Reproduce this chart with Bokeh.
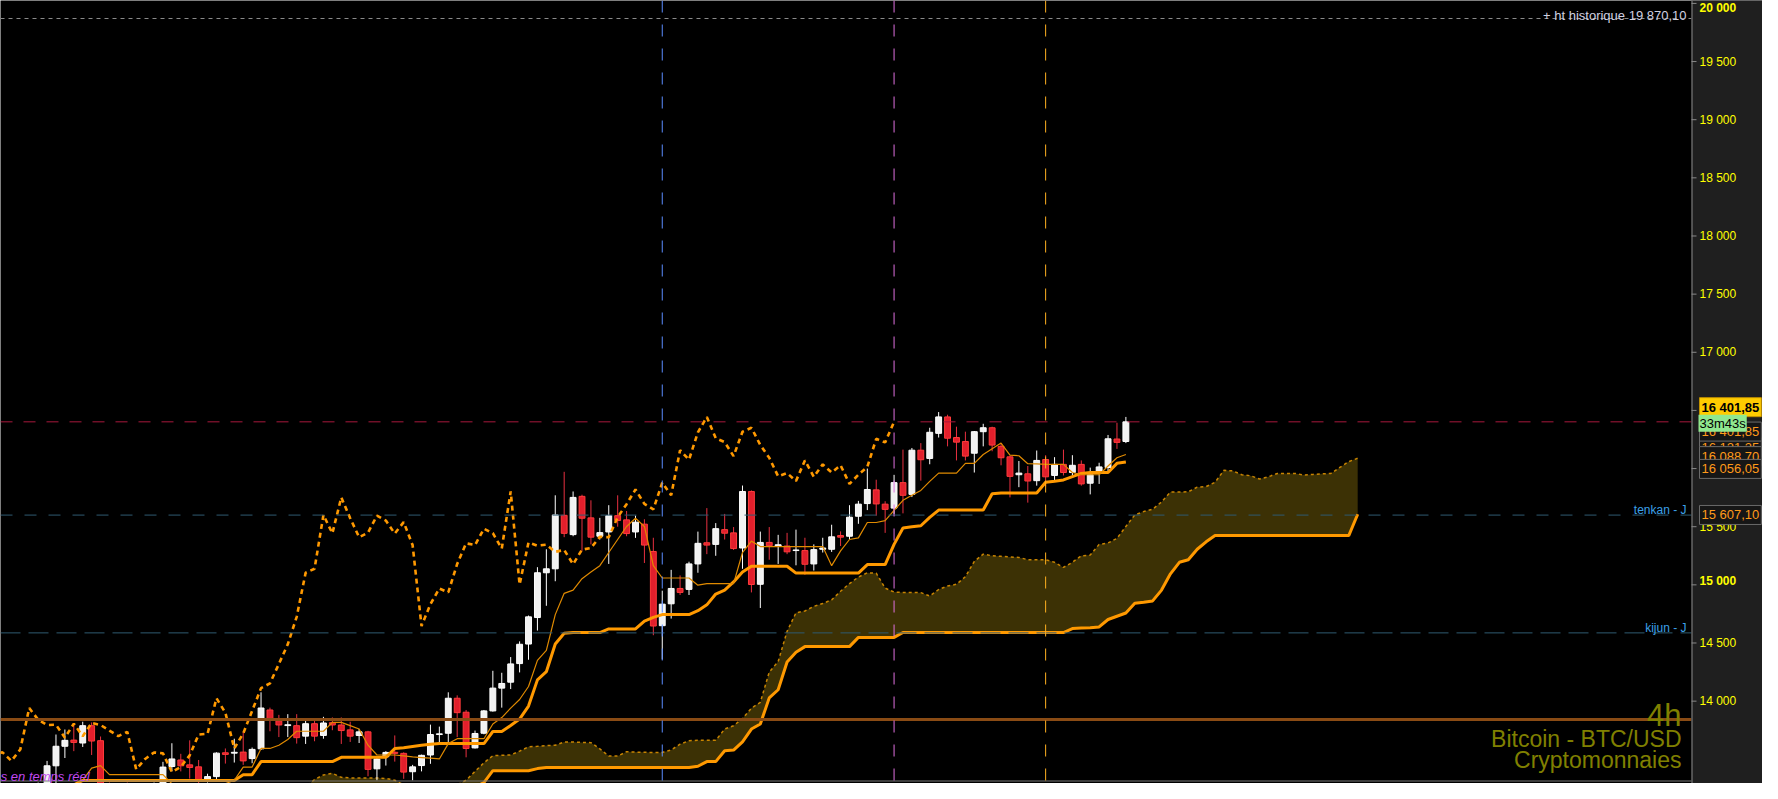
import numpy as np
from bokeh.plotting import figure
from bokeh.models import Range1d, Span, Label, ColumnDataSource
from bokeh.embed import file_html
from bokeh.resources import INLINE
from bokeh.core.properties import value

# ---------------- data ----------------
opens = [13230, 13250, 13210, 13240, 13270, 13280, 13444, 13612, 13665, 13640,
         13789, 13660, 13280, 13220, 13260, 13240, 13200, 13250, 13290, 13438,
         13494, 13452, 13435, 13320, 13351, 13556, 13553, 13562, 13506, 13590,
         13924, 13831, 13790, 13789, 13699, 13806, 13705, 13815, 13795, 13753,
         13705, 13736, 13418, 13522, 13560, 13551, 13393, 13446, 13537, 13713,
         13724, 14025, 13905, 13598, 13724, 13916, 14112, 14163, 14323, 14491,
         14719, 15104, 15138, 15598, 15432, 15761, 15576, 15418, 15455, 15595,
         15559, 15455, 15522, 15287, 14649, 14837, 14969, 14961, 15180, 15362,
         15348, 15475, 15447, 15317, 15803, 15005, 15365, 15334, 15334, 15295,
         15295, 15180, 15306, 15306, 15424, 15418, 15590, 15699, 15817, 15694,
         15660, 15879, 15778, 16158, 16087, 16303, 16444, 16267, 16233, 16132,
         16317, 16351, 16191, 16101, 15947, 15955, 15896, 16078, 15941, 16036,
         15966, 16036, 15874, 15966, 16009, 16254, 16233]
highs = [13290, 13280, 13260, 13295, 13300, 13486, 13713, 13756, 13806, 13823,
         13817, 13696, 13300, 13290, 13300, 13295, 13280, 13300, 13478, 13638,
         13547, 13663, 13494, 13376, 13560, 13593, 13677, 13736, 13601, 14076,
         13944, 13882, 13888, 13888, 13831, 13851, 13865, 13860, 13860, 13823,
         13761, 13745, 13510, 13570, 13705, 13560, 13452, 13540, 13798, 13781,
         14076, 14050, 13924, 13747, 13924, 14261, 14244, 14379, 14514, 14736,
         15152, 15306, 15770, 15972, 15803, 15775, 15727, 15576, 15685, 15770,
         15635, 15595, 15564, 15405, 14950, 15129, 15081, 15199, 15458, 15660,
         15531, 15610, 15497, 15854, 15812, 15458, 15497, 15430, 15447, 15475,
         15405, 15348, 15405, 15517, 15460, 15685, 15722, 16000, 15904, 15719,
         15946, 16163, 16177, 16219, 16351, 16486, 16463, 16360, 16317, 16323,
         16385, 16360, 16219, 16110, 16065, 16022, 16155, 16115, 16098, 16163,
         16115, 16070, 16008, 16050, 16289, 16394, 16444]
lows = [13180, 13190, 13170, 13200, 13220, 13250, 13280, 13511, 13570, 13606,
        13537, 13250, 13180, 13150, 13200, 13160, 13150, 13200, 13260, 13396,
        13396, 13334, 13290, 13300, 13320, 13463, 13472, 13452, 13466, 13580,
        13741, 13691, 13691, 13635, 13632, 13655, 13677, 13750, 13632, 13649,
        13640, 13354, 13320, 13446, 13480, 13332, 13320, 13396, 13461, 13640,
        13649, 13691, 13517, 13593, 13715, 13910, 13944, 14104, 14247, 14356,
        14607, 14820, 15031, 15410, 15418, 15292, 15348, 15390, 15180, 15500,
        15418, 15404, 15188, 14567, 14359, 14710, 14913, 14913, 15104, 15264,
        15250, 15390, 15300, 15138, 14935, 14801, 15216, 15180, 15264, 15168,
        15087, 15123, 15278, 15283, 15334, 15390, 15525, 15643, 15595, 15447,
        15610, 15615, 15755, 15896, 16037, 16267, 16191, 16070, 16070, 15966,
        16191, 16149, 16028, 15752, 15840, 15707, 15853, 15846, 15896, 15941,
        15941, 15853, 15778, 15868, 15975, 16169, 16219]
closes = [13250, 13210, 13240, 13270, 13285, 13444, 13612, 13663, 13645, 13789,
          13657, 13280, 13220, 13260, 13240, 13200, 13250, 13290, 13433, 13503,
          13444, 13430, 13320, 13351, 13553, 13542, 13560, 13486, 13585, 13941,
          13840, 13795, 13797, 13686, 13806, 13699, 13812, 13795, 13747, 13699,
          13736, 13413, 13503, 13559, 13551, 13390, 13435, 13534, 13713, 13719,
          14025, 13901, 13593, 13722, 13916, 14112, 14152, 14320, 14489, 14725,
          15104, 15138, 15601, 15443, 15752, 15573, 15410, 15449, 15595, 15553,
          15441, 15539, 15342, 14646, 14834, 14969, 14935, 15180, 15357, 15342,
          15483, 15444, 15312, 15803, 15003, 15365, 15337, 15345, 15284, 15300,
          15177, 15303, 15317, 15413, 15410, 15582, 15694, 15820, 15696, 15649,
          15879, 15770, 16158, 16076, 16312, 16444, 16261, 16227, 16107, 16317,
          16351, 16202, 16093, 15933, 15961, 15893, 16070, 15929, 16036, 15966,
          16028, 15868, 15947, 16014, 16256, 16225, 16401.85]

tenkan = ([13270] * 9 + [13320, 13424, 13446] + [13368] * 7 + [13290] * 7 +
          [13320, 13433, 13433, 13593, 13593, 13621, 13670] + [13741] * 4 +
          [13817, 13817, 13790, 13761, 13621, 13537, 13537, 13537, 13530, 13520,
           13515, 13510, 13503, 13635] + [13677] * 4 +
          [13803, 13859, 13940, 14014, 14126, 14351, 14436, 14744, 14927, 14955,
           15053, 15110, 15165, 15278, 15390, 15502, 15573, 15502, 15165] +
          [15059] * 4 + [14997] + [15011] * 4 + [15278, 15376] + [15329] * 8 +
          [15165, 15292, 15390, 15404, 15536, 15536, 15553, 15640, 15727, 15770,
           15812, 15890] + [15961] * 3 +
          [16045, 16045, 16121, 16170, 16219, 16115, 16110, 16042, 16040] +
          [16036] * 3 + [15966] + [15947] * 3 + [16022, 16093, 16121.35])

kijun = ([13280] * 9 + [13318] * 18 + [13368, 13368] + [13480] * 9 + [13517] * 6 +
         [13593, 13600, 13610, 13620, 13630] + [13635] * 6 +
         [13739, 13739, 13790, 13846, 13958, 14183, 14253, 14491, 14584] +
         [14590] * 4 + [14621] * 4 + [14688, 14720] + [14744] * 4 +
         [14778, 14828, 14921, 14955, 15025, 15110] + [15160] * 5 + [15101] * 8 +
         [15174] * 3 + [15348, 15489, 15500, 15508, 15580] + [15643] * 6 +
         [15784] + [15790] * 5 + [15882, 15890, 15902, 15930, 15958] +
         [15966] * 3 + [16045, 16056.05])

senkou_a = ([13250] * 30 + [13260] * 5 +
            [13326, 13365, 13379, 13345, 13340, 13340, 13340, 13340, 13335, 13320] +
            [13280] * 7 +
            [13320, 13396, 13470, 13531, 13535, 13537, 13570, 13607, 13612, 13618,
             13621, 13649, 13649, 13645, 13643, 13590, 13528, 13528, 13565, 13562,
             13560, 13559, 13559, 13580, 13630, 13660, 13663, 13663, 13663, 13760,
             13789, 13850, 13940, 13990, 14250, 14340, 14600, 14760, 14775, 14815,
             14840, 14871, 14945, 15011, 15067, 15104, 15100, 14972, 14938, 14935,
             14935, 14933, 14904, 14960, 14990, 15005, 15070, 15202, 15264, 15250,
             15245, 15240, 15236, 15216, 15216, 15216, 15194, 15150, 15194, 15250,
             15256, 15348, 15360, 15400, 15502, 15601, 15630, 15650, 15713, 15798,
             15798, 15800, 15840, 15845, 15882, 15985, 15980, 15947, 15938, 15910,
             15930, 15958, 15958, 15958, 15944, 15950, 15955, 15958, 16010, 16060,
             16088.70])

senkou_b = ([13260] * 54 + [13300] + [13402] * 5 + [13420] + [13430] * 17 +
            [13440, 13480, 13480, 13573, 13579, 13650, 13760, 13803, 14028, 14098,
             14337, 14421] + [14469] * 6 + [14548] * 5 + [14590] * 19 +
            [14624, 14630, 14632, 14638, 14702, 14730, 14758, 14842, 14851, 14862,
             14955, 15095, 15194, 15216, 15306, 15370] + [15424] * 16 + [15607.10])

assert len(opens) == len(highs) == len(lows) == len(closes) == 127
assert len(tenkan) == 127 and len(kijun) == 127
assert len(senkou_a) == 153 and len(senkou_b) == 153

tick_values = [14000, 14500, 15000, 15500, 16000, 16500, 17000, 17500, 18000,
               18500, 19000, 19500, 20000]
tick_labels = ["14 000", "14 500", "15 000", "15 500", "16 000", "16 500", "17 000",
               "17 500", "18 000", "18 500", "19 000", "19 500", "20 000"]
bold_ticks = [15000, 20000]

last_price = 16401.85
ath_price = 19870.10
tenkan_j = 15600
kijun_j = 14587
support_level = 13843
event_bars = [74, 100, 117]
chikou_shift = 26

price_boxes = [  # (label y position, text)
    (16183, "16 121,35"), (16107, "16 088,70"), (15997, "16 056,05"),
    (15601, "15 607,10"), (16318, "16 401,85")]

# ---------------- figure ----------------
W, H = 1762, 783
RB = 71                      # width of the price-scale panel
FW = W - RB                  # width of the chart area
XR0, XR1 = -0.222, 189.44    # chart area in bar units
XPX = (XR1 - XR0) / FW       # bar units per pixel
XE = XR1 + RB * XPX          # right edge of the canvas
YR0, YR1 = 13309, 20025      # chart area price range
YPX = (YR1 - YR0) / (H - 2)  # price per pixel
YB = YR0 - 2 * YPX
FONT = "Liberation Sans"

p = figure(width=W, height=H, x_range=Range1d(XR0, XE), y_range=Range1d(YB, YR1),
           output_backend="svg", toolbar_location=None, x_axis_location=None,
           y_axis_location=None, min_border_left=0, min_border_right=0,
           min_border_top=0, min_border_bottom=0, background_fill_color="#000000",
           border_fill_color="#000000", outline_line_color=None)
p.grid.visible = False

# ---------------- cloud ----------------
A = np.array(senkou_a, dtype=float)
B = np.array(senkou_b, dtype=float)
xf = np.arange(len(senkou_a))
p.varea(x=xf, y1=B, y2=A, fill_color="#3c3105")
p.line(xf, A, line_color="#c88400", line_width=1.5, line_dash="3 3")
p.line(xf, B, line_color="#ff9900", line_width=3)

# ---------------- candles ----------------
o = np.array(opens, dtype=float)
c = np.array(closes, dtype=float)
hi = np.array(highs, dtype=float)
lo = np.array(lows, dtype=float)
xi = np.arange(len(opens))
bull = c >= o
src = ColumnDataSource(dict(
    x=xi, top=np.maximum(o, c), bottom=np.minimum(o, c), high=hi, low=lo,
    fill=np.where(bull, "#f2f2f2", "#e21f2c"),
    edge=np.where(bull, "#ffffff", "#ff3b3b"),
    wick=np.where(bull, "#ffffff", "#e83040")))
p.segment(x0="x", y0="low", x1="x", y1="high", line_color="wick", line_width=1, source=src)
p.vbar(x="x", width=0.66, top="top", bottom="bottom", fill_color="fill",
       line_color="edge", line_width=1, source=src)

# ---------------- ichimoku lines ----------------
p.line(xi - chikou_shift, c, line_color="#ff9900", line_width=2.6, line_dash="5 4")
p.line(xi, kijun, line_color="#ff9900", line_width=3)
p.line(xi, tenkan, line_color="#e08a00", line_width=1.2)

# ---------------- reference lines ----------------
for xb, col in zip(event_bars, ["#5b8cff", "#e070e0", "#ffb020"]):
    p.add_layout(Span(location=xb, dimension="height", line_color=col,
                      line_width=1, line_dash="12 12"))

def hline(yv, **kw):
    p.segment(x0=[XR0], x1=[XR1], y0=[yv], y1=[yv], **kw)

hline(ath_price, line_color="#8a8a8a", line_width=1, line_dash="4 4")
hline(tenkan_j, line_color="#2f5a70", line_width=1, line_dash="12 12")
hline(kijun_j, line_color="#2f5a70", line_width=1, line_dash="20 8")
hline(last_price, line_color="#a8183c", line_width=1, line_dash="12 11")
hline(support_level, line_color="#8a4b14", line_width=3)
hline(YR0 + 0.5 * YPX, line_color="#7a7a7a", line_width=1)

# ---------------- price scale panel ----------------
p.quad(left=[XR1], right=[XE], bottom=[YB], top=[YR1], fill_color="#1f1f1f",
       line_color=None)
p.segment(x0=[XR1 + 0.5 * XPX], x1=[XR1 + 0.5 * XPX], y0=[YB], y1=[YR1],
          line_color="#8a8a8a", line_width=1)
p.segment(x0=[XR1] * len(tick_values), x1=[XR1 + 5 * XPX] * len(tick_values),
          y0=tick_values, y1=tick_values, line_color="#8a8a8a", line_width=1)
norm = [(v, t) for v, t in zip(tick_values, tick_labels) if v not in bold_ticks]
p.text(x=[XR1 + 8 * XPX] * len(norm), y=[v for v, _ in norm], text=[t for _, t in norm],
       text_font=value(FONT), text_font_size="12px", text_color="#ffff00",
       text_align="left", text_baseline="middle")
for v in bold_ticks:
    t = tick_labels[tick_values.index(v)]
    yv = min(v + 4 * YPX, YR1)
    p.text(x=[XR1 + 8 * XPX], y=[yv], text=[t], text_font=value(FONT),
           text_font_size="12px", text_font_style="bold", text_color="#ffff00",
           text_align="left", text_baseline="top" if yv >= YR1 else "middle")

# ---------------- texts ----------------
def lab(x, y, text, **kw):
    p.add_layout(Label(x=x, y=y, text=text, text_font=FONT, **kw))

lab(XR1 - 5 * XPX, 19899, "+ ht historique 19 870,10", text_color="#d0d0e0",
    text_font_size="13px", text_align="right", text_baseline="alphabetic")
lab(XR1 - 5 * XPX, 15643, "tenkan - J", text_color="#3ca0e8",
    text_font_size="12px", text_align="right", text_baseline="alphabetic")
lab(XR1 - 5 * XPX, 14626, "kijun - J", text_color="#3ca0e8",
    text_font_size="12px", text_align="right", text_baseline="alphabetic")
lab(XR1 - 10 * XPX, 13874, "4h", text_color="#808000",
    text_font_size="31px", text_align="right", text_baseline="alphabetic")
lab(XR1 - 10 * XPX, 13672, "Bitcoin - BTC/USD", text_color="#808000",
    text_font_size="23px", text_align="right", text_baseline="alphabetic")
lab(XR1 - 10 * XPX, 13494, "Cryptomonnaies", text_color="#808000",
    text_font_size="23px", text_align="right", text_baseline="alphabetic")
lab(XR0 + 0.2 * XPX, 13351, "s en temps réel", text_color="#c048f0",
    text_font_size="13px", text_font_style="italic", text_align="left",
    text_baseline="alphabetic")

for yv, t in price_boxes:
    lab(XR1 + 8 * XPX, yv, t, text_color="#ff9a1a", text_font_size="13px",
        text_align="left", text_baseline="middle", background_fill_color="#161616",
        border_line_color="#6a6a6a", padding=2)
lab(XR1 + 8 * XPX, 16528, "16 401,85", text_color="#000000", text_font_size="13px",
    text_font_style="bold", text_align="left", text_baseline="middle",
    background_fill_color="#ffcc00", border_line_color="#c09000", padding=2)
lab(XR1 + 7 * XPX, 16389, "33m43s", text_color="#000000", text_font_size="13px",
    text_align="left", text_baseline="middle", background_fill_color="#90e890",
    border_line_color=None, padding=1)

open("out.html", "w").write(file_html(p, INLINE))
